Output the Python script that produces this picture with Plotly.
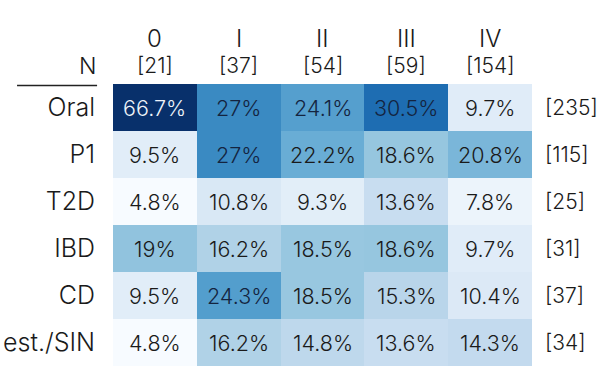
import plotly.graph_objects as go

stages = ["0", "I", "II", "III", "IV"]
stage_counts = [21, 37, 54, 59, 154]
groups = ["Oral", "P1", "T2D", "IBD", "CD", "est./SIN"]
group_counts = [235, 115, 25, 31, 37, 34]

oral = [66.7, 27, 24.1, 30.5, 9.7]
p1 = [9.5, 27, 22.2, 18.6, 20.8]
t2d = [4.8, 10.8, 9.3, 13.6, 7.8]
ibd = [19, 16.2, 18.5, 18.6, 9.7]
cd = [9.5, 24.3, 18.5, 15.3, 10.4]
sin = [4.8, 16.2, 14.8, 13.6, 14.3]

z = [oral, p1, t2d, ibd, cd, sin]

FONT = "Inter"
TXT = "#1a1a1a"
W = 350

fig = go.Figure(go.Heatmap(
    z=z, x=stages, y=groups,
    colorscale="Blues", zmin=6, zmax=38,
    showscale=False, xgap=0, ygap=0,
    hoverinfo="skip",
))

ann = []
for i, g in enumerate(groups):
    for j, s in enumerate(stages):
        v = z[i][j]
        ann.append(dict(x=s, y=g, xref="x", yref="y", text=f"{v:g}%",
                        showarrow=False,
                        font=dict(family=FONT, size=21.5, weight=W,
                                  color="#eef3f9" if v > 40 else ("#14243f" if v > 23 else TXT))))
    ann.append(dict(x=1.026, y=g, xref="paper", yref="y", text=f"[{group_counts[i]}]",
                    xanchor="left", yanchor="middle", showarrow=False,
                    font=dict(family=FONT, size=21, weight=W, color=TXT)))
for j, s in enumerate(stages):
    ann.append(dict(x=s, y=1.16, xref="x", yref="paper", text=s, showarrow=False,
                    yanchor="middle",
                    font=dict(family=FONT, size=24, weight=W, color=TXT)))
    ann.append(dict(x=s, y=1.064, xref="x", yref="paper", text=f"[{stage_counts[j]}]",
                    yanchor="middle",
                    showarrow=False, font=dict(family=FONT, size=21, weight=W, color=TXT)))
ann.append(dict(x=-0.036, y=1.064, xref="paper", yref="paper", text="N", xanchor="right",
                yanchor="middle",
                showarrow=False, font=dict(family=FONT, size=23, weight=W, color=TXT)))

fig.update_layout(
    width=601, height=376,
    margin=dict(l=113, r=69, t=84, b=10),
    paper_bgcolor="white", plot_bgcolor="white",
    annotations=ann,
    shapes=[dict(type="line", xref="paper", yref="paper", x0=-0.229, x1=-0.038,
                 y0=0.995, y1=0.995, line=dict(color="#222", width=1.5))],
    xaxis=dict(showticklabels=False, showgrid=False, zeroline=False, showline=False,
               automargin=False),
    yaxis=dict(autorange="reversed", showgrid=False, zeroline=False, showline=False,
               ticks="", ticklabelstandoff=17, automargin=False,
               tickfont=dict(family=FONT, size=25, weight=W, color=TXT)),
)

fig.write_html("out.html", config={"displayModeBar": False},
               post_script="document.body.style.margin='0';document.body.style.padding='0';")
